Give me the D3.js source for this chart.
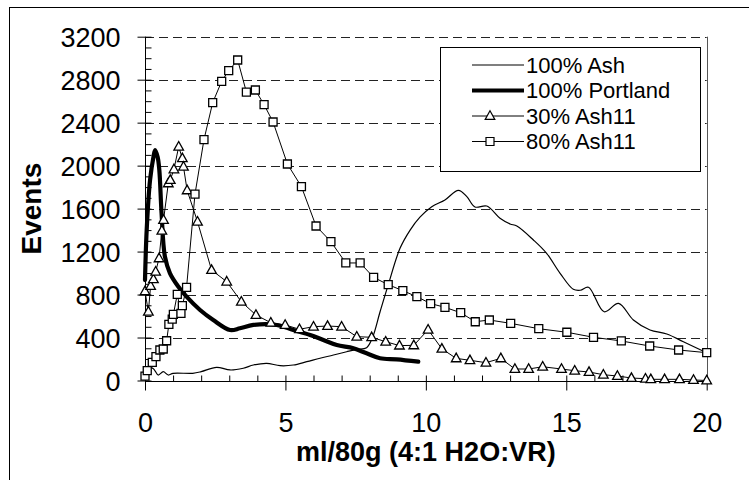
<!DOCTYPE html>
<html>
<head>
<meta charset="utf-8">
<script src="https://cdn.jsdelivr.net/npm/d3@7"></script>
<style>
  body { margin: 0; background: #fff; }
  svg { display: block; }
  text { font-family: "Liberation Sans", Arial, sans-serif; fill: #000; }
</style>
</head>
<body>
<svg id="chart" width="749" height="480"></svg>
<script>
// ---- data
const ashX = [0, 0.15, 0.3, 0.47, 0.65, 0.83, 1.0, 1.7, 2.0, 2.55, 3.03, 3.5, 3.86, 4.33, 4.81, 5.28, 5.76, 6.23, 6.71, 7.18, 7.54, 7.89, 8.1, 8.37, 8.66, 9.08, 9.44, 9.79, 10.21, 10.68, 11.16, 11.46, 11.75, 12.17, 12.64, 13.0, 13.24, 13.83, 14.3, 14.78, 15.25, 15.5, 15.79, 16.35, 16.86, 17.39, 17.98, 18.58, 19.17, 20];
const ashY = [40, 120, 110, 51, 82, 51, 67, 67, 82, 123, 98, 114, 144, 160, 138, 144, 175, 207, 237, 268, 290, 305, 400, 640, 890, 1230, 1400, 1520, 1618, 1680, 1770, 1711, 1615, 1624, 1510, 1457, 1438, 1308, 1184, 998, 849, 840, 868, 640, 718, 563, 470, 433, 361, 259];

const portlandX = [0, 0.06, 0.18, 0.3, 0.36, 0.45, 0.51, 0.59, 0.71, 0.89, 1.19, 1.48, 1.96, 2.43, 3.03, 3.38, 3.86, 4.69, 5.28, 5.88, 6.35, 6.83, 7.42, 7.89, 8.37, 8.96, 9.73];
const portlandY = [935, 1400, 1866, 2080, 2145, 2080, 1959, 1556, 1152, 998, 873, 780, 656, 563, 470, 486, 517, 517, 470, 423, 377, 330, 300, 253, 207, 197, 175];

const ash30X = [0, 0.12, 0.2, 0.3, 0.38, 0.5, 0.6, 0.66, 0.83, 0.9, 1.03, 1.2, 1.33, 1.37, 1.5, 1.87, 2.37, 2.91, 3.43, 3.95, 4.48, 4.99, 5.5, 6.0, 6.5, 7.0, 7.54, 8.07, 8.57, 9.06, 9.57, 10.08, 10.57, 11.08, 11.57, 12.14, 12.67, 13.17, 13.66, 14.16, 14.83, 15.3, 15.81, 16.32, 16.82, 17.32, 17.82, 18.01, 18.5, 19.03, 19.53, 20];
const ash30Y = [830, 640, 880, 942, 1013, 1137, 1394, 1494, 1835, 1866, 1965, 2176, 2068, 1990, 1770, 1478, 1028, 920, 733, 610, 538, 517, 477, 501, 507, 501, 408, 402, 361, 325, 327, 473, 295, 206, 188, 166, 206, 107, 107, 128, 107, 91, 79, 54, 42, 23, 17, 11, 11, 11, 5, 0];

const ash80X = [0, 0.08, 0.26, 0.39, 0.53, 0.65, 0.77, 0.85, 0.97, 1.01, 1.15, 1.28, 1.33, 1.48, 1.78, 2.1, 2.41, 2.73, 2.98, 3.3, 3.61, 3.93, 4.24, 4.56, 5.07, 5.57, 6.09, 6.62, 7.15, 7.66, 8.14, 8.66, 9.18, 9.68, 10.17, 10.68, 11.24, 11.76, 12.26, 13.02, 14.02, 15.02, 15.97, 16.96, 17.97, 19.0, 20];
const ash80Y = [40, 91, 169, 222, 284, 293, 370, 523, 572, 616, 802, 625, 696, 867, 1735, 2242, 2586, 2785, 2884, 2983, 2685, 2704, 2567, 2406, 2015, 1804, 1438, 1292, 1094, 1094, 960, 892, 836, 780, 716, 681, 631, 547, 563, 532, 482, 449, 402, 368, 321, 284, 259];

const xTicks = [0, 5, 10, 15, 20];
const yTicks = [0, 400, 800, 1200, 1600, 2000, 2400, 2800, 3200];
const legendLabels = ["100% Ash", "100% Portland", "30% Ash11", "80% Ash11"];

// ---- layout
const svg = d3.select("#chart");
const pLeft = 145, pRight = 706.7, pTop = 36.7, pBottom = 380.5;

const x = d3.scaleLinear().domain([0, 20]).range([pLeft, pRight]);
const y = d3.scaleLinear().domain([0, 3200]).range([pBottom, pTop]);

// outer chart border (right/bottom fall outside the picture)
svg.append("rect")
  .attr("x", 9.5).attr("y", 7.5)
  .attr("width", 800).attr("height", 600)
  .attr("fill", "none").attr("stroke", "#000").attr("stroke-width", 1);

// gridlines
svg.append("g").selectAll("line")
  .data(yTicks.filter(d => d > 0))
  .enter().append("line")
  .attr("x1", pLeft).attr("x2", pRight)
  .attr("y1", d => Math.round(y(d)) + 0.5)
  .attr("y2", d => Math.round(y(d)) + 0.5)
  .attr("stroke", "#222").attr("stroke-width", 1)
  .attr("stroke-dasharray", "9,5");

// right plot border
svg.append("line")
  .attr("x1", Math.round(pRight) + 0.5).attr("x2", Math.round(pRight) + 0.5)
  .attr("y1", pTop).attr("y2", pBottom)
  .attr("stroke", "#555").attr("stroke-width", 1);

// y axis: major outside, minor inside
const yAxis = d3.axisLeft(y).tickValues(yTicks).tickSize(8).tickPadding(17).tickFormat(d3.format("d"));
const yAxisG = svg.append("g")
  .attr("transform", `translate(${Math.round(pLeft) + 0.5},0)`)
  .call(yAxis);
yAxisG.select(".domain").attr("d", `M0,${pTop}V${pBottom}`);
yAxisG.selectAll("text").style("font-size", "27px").attr("dy", "0.36em");
const yMinor = d3.axisRight(y).tickValues(d3.range(0, 3201, 100)).tickSize(6).tickFormat("");
svg.append("g")
  .attr("transform", `translate(${Math.round(pLeft) + 0.5},0)`)
  .call(yMinor)
  .select(".domain").remove();

// x axis: major outside, minor inside
const xAxis = d3.axisBottom(x).tickValues(xTicks).tickSize(9).tickPadding(41).tickFormat(d3.format("d"));
const xAxisG = svg.append("g")
  .attr("transform", `translate(0,${Math.round(pBottom) + 0.5})`)
  .call(xAxis);
xAxisG.select(".domain").attr("d", `M${pLeft},0H${pRight}`);
xAxisG.selectAll("text").style("font-size", "27px").attr("dy", "0");
const xMinor = d3.axisTop(x).tickValues(d3.range(0, 21, 1)).tickSize(6).tickFormat("");
svg.append("g")
  .attr("transform", `translate(0,${Math.round(pBottom) + 0.5})`)
  .call(xMinor)
  .select(".domain").remove();

// axis titles
svg.append("text")
  .attr("transform", `translate(41,${(pTop + pBottom) / 2}) rotate(-90)`)
  .attr("text-anchor", "middle")
  .style("font-size", "28px").style("font-weight", "bold")
  .text("Events");

svg.append("text")
  .attr("x", (pLeft + pRight) / 2).attr("y", 461)
  .attr("text-anchor", "middle")
  .style("font-size", "27px").style("font-weight", "bold")
  .text("ml/80g (4:1 H2O:VR)");

// ---- series
const plot = svg.append("g");
const zip = (xs, ys) => xs.map((v, i) => [v, ys[i]]);
const ashData = zip(ashX, ashY);
const portlandData = zip(portlandX, portlandY);
const ash30Data = zip(ash30X, ash30Y);
const ash80Data = zip(ash80X, ash80Y);

const smooth = d3.line().x(d => x(d[0])).y(d => y(d[1])).curve(d3.curveCatmullRom.alpha(0.5));
const straight = d3.line().x(d => x(d[0])).y(d => y(d[1]));

plot.append("path").attr("d", smooth(ashData))
  .attr("fill", "none").attr("stroke", "#000").attr("stroke-width", 1.2);
plot.append("path").attr("d", smooth(portlandData))
  .attr("fill", "none").attr("stroke", "#000").attr("stroke-width", 4.2)
  .attr("stroke-linejoin", "round").attr("stroke-linecap", "round");

const triPath = "M0,-5.2L4.8,3.4L-4.8,3.4Z";
const sqPath = "M-4,-4H4V4H-4Z";

plot.append("path").attr("d", straight(ash30Data))
  .attr("fill", "none").attr("stroke", "#000").attr("stroke-width", 1);
plot.append("g").selectAll("path")
  .data(ash30Data).enter().append("path")
  .attr("transform", d => `translate(${x(d[0])},${y(d[1])})`)
  .attr("d", triPath)
  .attr("fill", "#fff").attr("stroke", "#000").attr("stroke-width", 1.3);

plot.append("path").attr("d", straight(ash80Data))
  .attr("fill", "none").attr("stroke", "#000").attr("stroke-width", 1);
plot.append("g").selectAll("path")
  .data(ash80Data).enter().append("path")
  .attr("transform", d => `translate(${x(d[0])},${y(d[1])})`)
  .attr("d", sqPath)
  .attr("fill", "#fff").attr("stroke", "#000").attr("stroke-width", 1.3);

// ---- legend
const legend = svg.append("g");
legend.append("rect")
  .attr("x", 440.5).attr("y", 47.5)
  .attr("width", 260).attr("height", 124)
  .attr("fill", "#fff").attr("stroke", "#000").attr("stroke-width", 1);

const rowY = i => 65 + i * 25.5;
const legWidths = [1.2, 4.2, 1, 1];
const item = legend.selectAll("g.item")
  .data(legendLabels).enter().append("g")
  .attr("class", "item");

item.append("line")
  .attr("x1", 472).attr("x2", 524)
  .attr("y1", (d, i) => rowY(i)).attr("y2", (d, i) => rowY(i))
  .attr("stroke", "#000")
  .attr("stroke-width", (d, i) => legWidths[i]);

item.filter((d, i) => i >= 2).append("path")
  .attr("transform", (d, i) => `translate(490,${rowY(i + 2)})`)
  .attr("d", (d, i) => i === 0 ? triPath : sqPath)
  .attr("fill", "#fff").attr("stroke", "#000").attr("stroke-width", 1.2);

item.append("text")
  .attr("x", 526)
  .attr("y", (d, i) => rowY(i))
  .attr("dy", "0.36em")
  .style("font-size", "22px")
  .text(d => d);
</script>
</body>
</html>
